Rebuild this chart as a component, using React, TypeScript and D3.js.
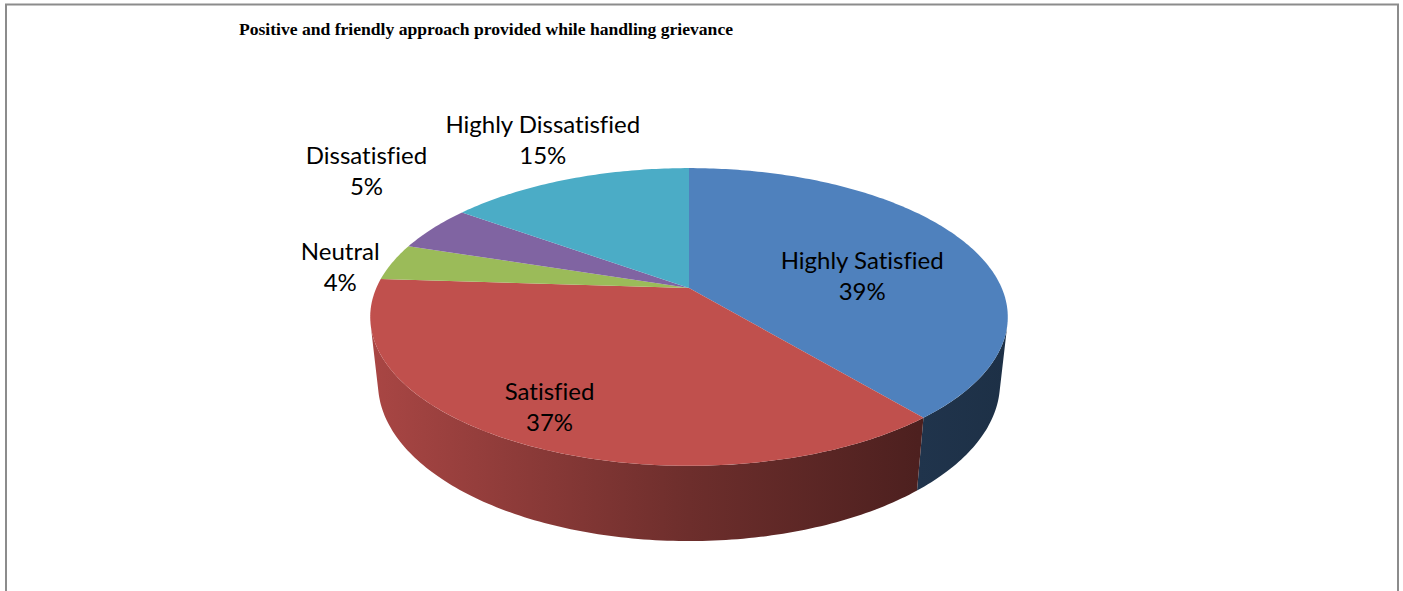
import React from "react";
import * as d3 from "d3";

// ---------- data ----------
const categories = ["Highly Satisfied", "Satisfied", "Neutral", "Dissatisfied", "Highly Dissatisfied"];
const values = [39, 37, 4, 5, 15];
const colors = ["#4F81BD", "#C0504D", "#9BBB59", "#8064A2", "#4BACC6"];
const titleText = "Positive and friendly approach provided while handling grievance";

// ---------- layout ----------
const W = 1403;
const H = 591;
const CX = 689; // projected pie centre
const CY = 288;
const FOCAL = 1429;
const DIST = 4.57;
const SIN_E = 0.458;
const COS_E = 0.889;
const THICK = 0.24;
const LABEL_FONT = "Lato, 'Open Sans', sans-serif";
const LABEL_SIZE = 24;
const LINE_H = 31;
// inside labels: radius fraction and angular bias (degrees) from the slice middle
const insideRadius = [0.57, 0.81];
const insideBias = [11, 1.3];
const GAP_X = 14;
const GAP_Y = 31;
const OUT_DROP = 16;
const PAD_X = 18;
const PAD_Y = 34;

function project(r: number, theta: number, y: number): [number, number] {
  const X = r * Math.sin(theta);
  const Z = r * Math.cos(theta);
  const depth = DIST - y * SIN_E + Z * COS_E;
  const yc = y * COS_E + Z * SIN_E;
  return [CX + (FOCAL * X) / depth, CY - (FOCAL * yc) / depth];
}

function measure(text: string): number {
  const c = document.createElement("canvas").getContext("2d");
  if (!c) return text.length * LABEL_SIZE * 0.5;
  c.font = `${LABEL_SIZE}px Lato`;
  return c.measureText(text).width;
}

export default function App() {
  const total = d3.sum(values);
  const pie = d3
    .pie<number>()
    .sort(null)
    .startAngle(0)
    .endAngle(2 * Math.PI);
  const arcs = pie(values);
  const line = d3.line<[number, number]>();

  const visLo = Math.acos(-1 / (DIST * COS_E));
  const visHi = 2 * Math.PI - visLo;

  const sample = (a0: number, a1: number, y: number) => {
    const n = Math.max(2, Math.ceil(((a1 - a0) / (2 * Math.PI)) * 400));
    return d3.range(n + 1).map((i) => project(1, a0 + ((a1 - a0) * i) / n, y));
  };

  // gradient extent
  const xs = d3.range(0, 361).map((d) => project(1, (d * Math.PI) / 180, 0)[0]);
  const gx0 = d3.min(xs) as number;
  const gx1 = d3.max(xs) as number;
  const shadeStops: [number, number][] = [
    [0, 0.88],
    [0.5, 0.57],
    [0.86, 0.4],
    [1, 0.37],
  ];

  const walls = arcs
    .map((a, i) => {
      const t0 = Math.max(a.startAngle, visLo);
      const t1 = Math.min(a.endAngle, visHi);
      if (t0 >= t1) return null;
      const top = sample(t0, t1, 0);
      const bot = sample(t0, t1, -THICK).reverse();
      return { i, d: line([...top, ...bot]) + "Z" };
    })
    .filter(Boolean) as { i: number; d: string }[];

  const tops = arcs.map((a, i) => {
    const pts = [project(0, 0, 0), ...sample(a.startAngle, a.endAngle, 0)];
    return { i, d: line(pts) + "Z" };
  });

  // labels
  type Lab = { i: number; x: number; y: number; w: number; h: number; l1: string; l2: string };
  const labels: Lab[] = [];
  const outside: Lab[] = [];
  arcs.forEach((a, i) => {
    const mid = (a.startAngle + a.endAngle) / 2;
    const l1 = categories[i];
    const l2 = `${Math.round((values[i] / total) * 100)}%`;
    const w = Math.max(measure(l1), measure(l2));
    const h = LINE_H * 2;
    if (i < insideRadius.length) {
      const [x, y] = project(insideRadius[i], mid + (insideBias[i] * Math.PI) / 180, 0);
      labels.push({ i, x, y, w, h, l1, l2 });
    } else {
      const [ax, ay] = project(1, mid, 0);
      const x = ax + Math.sin(mid) * (w / 2 + GAP_X);
      const y = ay + OUT_DROP - Math.cos(mid) * (h / 2 + GAP_Y);
      outside.push({ i, x, y, w, h, l1, l2 });
    }
  });
  outside.sort((p, q) => q.y - p.y);
  const placed: Lab[] = [];
  outside.forEach((lab) => {
    placed.forEach((o) => {
      const ox = (lab.w + o.w) / 2 + PAD_X - Math.abs(lab.x - o.x);
      const oy = (lab.h + o.h) / 2 + PAD_Y - Math.abs(lab.y - o.y);
      if (ox > 0 && oy > 0) {
        if (ox < oy) lab.x += lab.x >= o.x ? ox : -ox;
        else lab.y -= oy;
      }
    });
    placed.push(lab);
    labels.push(lab);
  });

  return (
    <svg
      width={W}
      height={H}
      style={{ position: "absolute", left: 0, top: 0, background: "#fff" }}
    >
      <defs>
        {colors.map((c, i) => (
          <linearGradient
            key={i}
            id={`wall${i}`}
            gradientUnits="userSpaceOnUse"
            x1={gx0}
            x2={gx1}
            y1={0}
            y2={0}
          >
            {shadeStops.map(([o, f], k) => {
              const rgb = d3.rgb(c);
              const col = d3.rgb(rgb.r * f, rgb.g * f, rgb.b * f);
              return <stop key={k} offset={o} stopColor={col.formatHex()} />;
            })}
          </linearGradient>
        ))}
      </defs>
      <rect x={6} y={4.5} width={1392} height={600} fill="#fff" stroke="#8c8c8c" strokeWidth={2} />
      <text
        x={239}
        y={35}
        fontFamily="'Liberation Serif', 'Times New Roman', serif"
        fontWeight="bold"
        fontSize={17}
        textLength={494}
        lengthAdjust="spacingAndGlyphs"
        fill="#000"
      >
        {titleText}
      </text>
      <g>
        {walls.map((w) => (
          <path key={`w${w.i}`} d={w.d} fill={`url(#wall${w.i})`} />
        ))}
        {tops.map((t) => (
          <path key={`t${t.i}`} d={t.d} fill={colors[t.i]} />
        ))}
      </g>
      <g
        fontFamily={LABEL_FONT}
        fontSize={LABEL_SIZE}
        fill="#000"
        textAnchor="middle"
        style={{ fontVariantLigatures: "none", fontFeatureSettings: "'liga' 0" }}
      >
        {labels.map((l) => {
          const cap = LABEL_SIZE * 0.36;
          return (
            <g key={`l${l.i}`}>
              <text x={l.x} y={l.y - LINE_H / 2 + cap}>{l.l1}</text>
              <text x={l.x} y={l.y + LINE_H / 2 + cap}>{l.l2}</text>
            </g>
          );
        })}
      </g>
    </svg>
  );
}
